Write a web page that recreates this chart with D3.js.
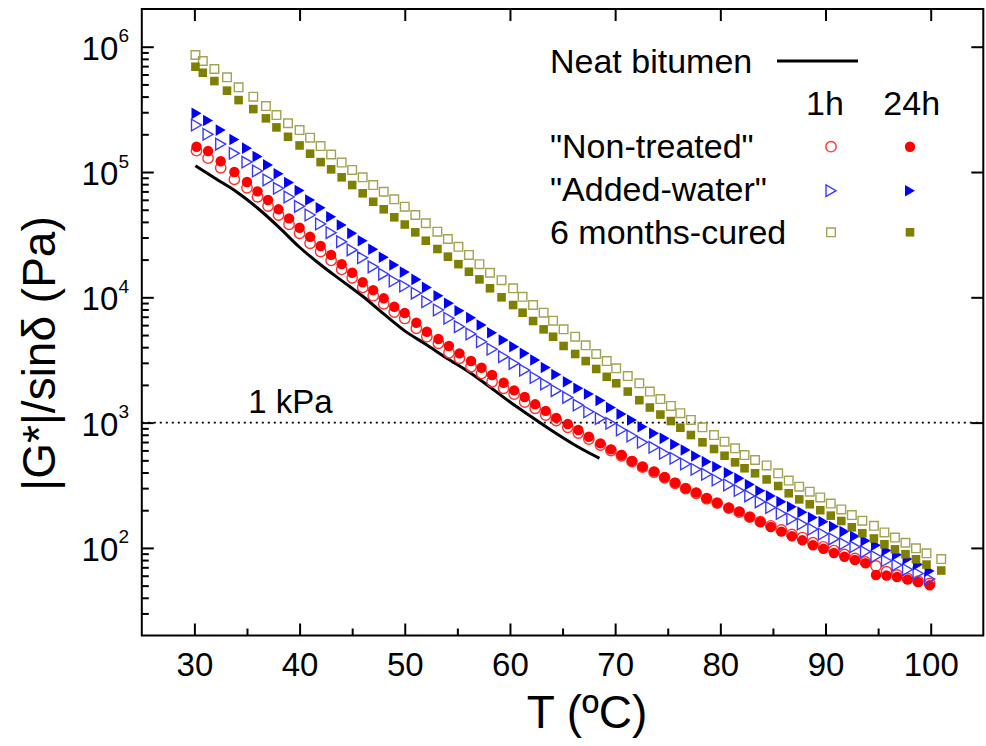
<!DOCTYPE html>
<html>
<head>
<meta charset="utf-8">
<script src="https://cdn.jsdelivr.net/npm/d3@7/dist/d3.min.js"></script>
<style>
  body { margin: 0; background: #fff; }
  svg { font-family: "Liberation Sans", Arial, sans-serif; }
</style>
</head>
<body>
<svg id="chart" width="986" height="746"></svg>
<script>
// temperatures (ºC) of the "Non-treated" and "Added-water" runs
const tempA = [30.2, 31.3, 32.5, 33.8, 35, 36, 37, 38, 39, 40, 41, 42, 43, 44, 45, 46, 47, 48, 49, 50,
  51.1, 52.1, 53.2, 54.2, 55.2, 56.3, 57.3, 58.3, 59.4, 60.4, 61.4, 62.4, 63.4, 64.4, 65.5, 66.5,
  67.5, 68.6, 69.6, 70.6, 71.6, 72.6, 73.7, 74.7, 75.7, 76.7, 77.7, 78.7, 79.7, 80.8, 81.8, 82.8,
  83.8, 84.8, 85.8, 86.8, 87.8, 88.8, 89.8, 90.8, 91.8, 92.8, 93.8, 94.8, 95.8, 96.8, 97.8, 98.8, 99.9]

// temperatures of the "6 months-cured" runs
const tempCured = [30.1, 30.8, 31.9, 33.1, 34.2, 35.6, 36.8, 37.8, 38.9,
  40, 41, 42, 43, 44, 45, 46, 47, 48, 49, 50, 51, 52,
  53.1, 54.1, 55.1, 56.1, 57.1, 58.1, 59.2, 60.3, 61.2, 62.2, 63.2, 64.1, 65.1, 66.2,
  67.2, 68.2, 69.2, 70.1, 71.2, 72.3, 73.3, 74.3, 75.3, 76.2, 77.2, 78.3, 79.4, 80.4, 81.4, 82.3,
  83.3, 84.4, 85.5, 86.5, 87.5, 88.5, 89.5, 90.5, 91.5, 92.5, 93.5, 94.6, 95.6, 96.6, 97.6, 98.6, 99.6, 101]

// |G*|/sin(delta) in Pa
const nonTreated1h = [148000, 129000, 108000, 87400, 74900, 63500, 53500, 45400, 38300, 32400,
  27000, 23200, 19700, 16700, 14300, 12000, 10300, 8870, 7630, 6780,
  5660, 4850, 4300, 3610, 3260, 2790, 2470, 2120, 1880, 1690, 1460, 1300, 1150, 1040, 917, 826,
  740, 662, 599, 544, 489, 441, 402, 363, 328, 297, 273, 247, 228, 208, 193, 176,
  162, 150, 139, 128, 121, 110, 102, 95.3, 88.6, 82.3, 77.2, 71.7, 64.6, 60.8, 57.2, 54.4, 52.0]

const nonTreated24h = [159000, 147000, 122000, 100000, 83200, 70100, 59800, 50400, 42700, 35900,
  30400, 25700, 21800, 18400, 15700, 13200, 11400, 9820, 8410, 7490,
  6270, 5310, 4650, 4090, 3570, 3100, 2740, 2400, 2080, 1810, 1600, 1400, 1240, 1090, 974, 873,
  772, 683, 612, 551, 494, 445, 406, 366, 331, 299, 276, 249, 229, 209, 195, 177,
  161, 147, 135, 124, 115, 105, 98.4, 91.1, 85.1, 80.1, 75.4, 60.8, 60.2, 58.6, 55.9, 53.4, 50.3]

const addedWater1h = [237000, 200000, 167000, 141000, 120000, 102000, 86400, 74100, 63200, 53200,
  45400, 38500, 32800, 27800, 23900, 20700, 17500, 15300, 13500, 12300,
  10800, 9220, 7920, 6800, 5830, 5100, 4420, 3850, 3360, 2970, 2620, 2290, 2030, 1800, 1590, 1380,
  1220, 1080, 987, 873, 782, 696, 635, 569, 519, 467, 424, 387, 348, 318, 287, 260,
  233, 210, 188, 170, 155, 141, 129, 118, 108, 102, 93.3, 85.4, 79.0, 73.0, 67.2, 62.5, 56.5]

const addedWater24h = [294000, 258000, 216000, 182000, 155000, 133000, 114000, 96900, 82400, 71200,
  59800, 51900, 44000, 37800, 32400, 28300, 24200, 20900, 18100, 15900,
  13900, 12000, 10300, 8960, 7820, 6880, 6010, 5220, 4560, 4040, 3570, 3160, 2750, 2420, 2120, 1880,
  1690, 1500, 1320, 1170, 1050, 928, 821, 749, 671, 604, 541, 488, 445, 398, 359, 321,
  286, 260, 234, 213, 193, 175, 162, 148, 135, 124, 114, 105, 95.3, 88.2, 81.5, 73.7, 65.4]

const cured1h = [859000, 769000, 664000, 570000, 474000, 399000, 336000, 285000, 245000,
  216000, 188000, 161000, 138000, 119000, 104000, 90700, 78700, 69600, 60600, 52900, 45400, 39000,
  33400, 29200, 25300, 21800, 18400, 15700, 13700, 11800, 10100, 8680, 7540, 6510, 5550, 4850,
  4140, 3530, 3100, 2710, 2350, 2060, 1770, 1540, 1360, 1190, 1050, 917, 796, 704, 624, 551,
  503, 455, 394, 345, 308, 281, 253, 226, 203, 183, 165, 150, 133, 121, 110, 99.3, 90.5, 81.5]

const cured24h = [692000, 620000, 532000, 446000, 375000, 318000, 268000, 227000, 191000,
  163000, 140000, 120000, 105000, 90700, 78700, 67600, 57900, 50400, 43500, 38100, 33000, 28300,
  24300, 21100, 18400, 16000, 13900, 11800, 10000, 8680, 7540, 6470, 5550, 4850, 4090, 3530,
  3100, 2680, 2320, 2060, 1770, 1510, 1320, 1160, 1030, 911, 796, 696, 616, 544, 482, 432,
  394, 352, 312, 273, 244, 223, 200, 181, 164, 146, 131, 119, 107, 97.4, 89.1, 81.1, 73.6, 66.0]

const neatTemp = [30.1, 32, 34, 36, 38, 40, 42, 44, 46, 48, 50, 52, 54, 56, 58, 60, 62, 64, 66, 68, 68.5]
const neatValues = [112000, 88700, 69600, 51600, 36500, 25100, 18200, 13600, 10200, 7370, 5400,
  4220, 3270, 2570, 1950, 1460, 1120, 861, 676, 546, 519]

const xTicks = [30, 40, 50, 60, 70, 80, 90, 100]
const xMinor = [35, 45, 55, 65, 75, 85, 95]
const yTicks = [1e2, 1e3, 1e4, 1e5, 1e6]
const rowLabels = ['"Non-treated"', '"Added-water"', '6 months-cured']
const colLabels = ['1h', '24h']

const margin = {left: 141.8, top: 9}
const width = 841.5
const height = 626.5

const svg = d3.select('svg#chart')
const g = svg.append('g').attr('transform', `translate(${margin.left},${margin.top})`)

const xScale = d3.scaleLinear().domain([25, 105]).range([0, width])
const yScale = d3.scaleLog().domain([20, 2e6]).range([height, 0])

const yMinor = []
for (let e = 1; e <= 6; e++) {
    for (let m = 2; m <= 9; m++) {
        const v = m * Math.pow(10, e)
        if (v > 20 && v < 2e6) yMinor.push(v)
    }
}

const styleAxis = sel => {
    sel.select('.domain').remove()
    sel.selectAll('line').attr('stroke', '#000').attr('stroke-width', 2)
    sel.attr('font-family', null).attr('font-size', 33)
    sel.selectAll('text').attr('fill', '#000')
}

// bottom axis
g.append('g').attr('transform', `translate(0,${height})`)
    .call(d3.axisBottom(xScale).tickValues(xMinor).tickSize(-7).tickFormat(''))
    .call(styleAxis)
g.append('g').attr('transform', `translate(0,${height})`)
    .call(d3.axisBottom(xScale).tickValues(xTicks).tickSize(-12).tickPadding(17).tickFormat(d3.format('d')))
    .call(styleAxis)

// top and right: major ticks only
g.append('g')
    .call(d3.axisTop(xScale).tickValues(xTicks).tickSize(-12).tickFormat(''))
    .call(styleAxis)
g.append('g').attr('transform', `translate(${width},0)`)
    .call(d3.axisRight(yScale).tickValues(yTicks).tickSize(-12).tickFormat(''))
    .call(styleAxis)

// left axis
g.append('g')
    .call(d3.axisLeft(yScale).tickValues(yMinor).tickSize(-7).tickFormat(''))
    .call(styleAxis)
const yAxis = g.append('g')
    .call(d3.axisLeft(yScale).tickValues(yTicks).tickSize(-12).tickFormat(''))
    .call(styleAxis)
yAxis.selectAll('.tick text').remove()
yAxis.selectAll('.tick').append('text')
    .attr('x', -23.5)
    .attr('y', 12.6)
    .attr('text-anchor', 'end')
    .attr('font-size', 33)
    .attr('fill', '#000')
    .text('10')
yAxis.selectAll('.tick').append('text')
    .attr('x', -23.2)
    .attr('y', -5)
    .attr('text-anchor', 'start')
    .attr('font-size', 19)
    .attr('fill', '#000')
    .text(d => Math.round(Math.log10(d)))

// frame
g.append('rect')
    .attr('width', width)
    .attr('height', height)
    .attr('fill', 'none')
    .attr('stroke', '#000')
    .attr('stroke-width', 2)

// 1 kPa reference
g.append('line')
    .attr('x1', 0)
    .attr('x2', width)
    .attr('y1', yScale(1000))
    .attr('y2', yScale(1000))
    .attr('stroke', '#000')
    .attr('stroke-width', 1.8)
    .attr('stroke-dasharray', '2,4')
g.append('text')
    .attr('x', 248.3 - margin.left)
    .attr('y', 413.3 - margin.top)
    .attr('font-size', 33)
    .text('1 kPa')

// neat bitumen line
const line = d3.line()
    .x(d => xScale(d[0]))
    .y(d => yScale(d[1]))
    .curve(d3.curveMonotoneX)
g.append('path')
    .datum(neatTemp.map((t, i) => [t, neatValues[i]]))
    .attr('d', line)
    .attr('fill', 'none')
    .attr('stroke', '#000')
    .attr('stroke-width', 3)

const shapes = {
    circle: d3.symbol().type(d3.symbolCircle).size(Math.PI * 5.2 * 5.2)(),
    square: d3.symbol().type(d3.symbolSquare).size(8.6 * 8.6)(),
    triangle: 'M-5,-5.8L5,0L-5,5.8Z'
}

const series = [
    {temp: tempA, values: nonTreated1h, shape: 'circle', color: '#ff0000', open: '#ff3030', filled: false},
    {temp: tempA, values: nonTreated24h, shape: 'circle', color: '#ff0000', filled: true},
    {temp: tempA, values: addedWater1h, shape: 'triangle', color: '#0000ff', open: '#3a3aff', filled: false},
    {temp: tempA, values: addedWater24h, shape: 'triangle', color: '#0000ff', filled: true},
    {temp: tempCured, values: cured1h, shape: 'square', color: '#808000', open: '#a3a356', filled: false},
    {temp: tempCured, values: cured24h, shape: 'square', color: '#808000', filled: true}
]

const drawMarker = (sel, s) => sel
    .attr('d', shapes[s.shape])
    .attr('fill', s.filled ? s.color : 'none')
    .attr('stroke', s.filled ? 'none' : s.open)
    .attr('stroke-width', s.filled ? 0 : 1.4)

series.forEach(s => {
    g.append('g')
        .selectAll('path')
        .data(s.values.map((v, i) => [s.temp[i], v]))
        .enter()
        .append('path')
        .attr('transform', d => `translate(${xScale(d[0])},${yScale(d[1])})`)
        .call(drawMarker, s)
})

// axis titles
svg.append('text')
    .attr('x', 587)
    .attr('y', 728)
    .attr('text-anchor', 'middle')
    .attr('font-size', 46)
    .text('T (ºC)')
svg.append('text')
    .attr('transform', 'translate(55,353.5) rotate(-90)')
    .attr('text-anchor', 'middle')
    .attr('font-size', 46)
    .text('|G*|/sinδ (Pa)')

// legend
const legend = svg.append('g')
legend.append('text')
    .attr('x', 550)
    .attr('y', 72.5)
    .attr('font-size', 34)
    .text('Neat bitumen')
legend.append('line')
    .attr('x1', 777)
    .attr('x2', 858)
    .attr('y1', 61)
    .attr('y2', 61)
    .attr('stroke', '#000')
    .attr('stroke-width', 3)

const colX = [831, 910]
legend.selectAll('text.col')
    .data(colLabels)
    .enter()
    .append('text')
    .attr('class', 'col')
    .attr('x', (d, i) => [825, 911.7][i])
    .attr('y', 115)
    .attr('text-anchor', 'middle')
    .attr('font-size', 34)
    .text(d => d)

const rowY = [146.7, 190.7, 232.3]
const rowBase = [157.5, 201, 244]
legend.selectAll('text.row')
    .data(rowLabels)
    .enter()
    .append('text')
    .attr('class', 'row')
    .attr('x', 550)
    .attr('y', (d, i) => rowBase[i])
    .attr('font-size', 34)
    .text(d => d)

series.forEach((s, i) => {
    legend.append('path')
        .attr('transform', `translate(${colX[i % 2]},${rowY[Math.floor(i / 2)]})`)
        .call(drawMarker, s)
})
</script>
</body>
</html>
